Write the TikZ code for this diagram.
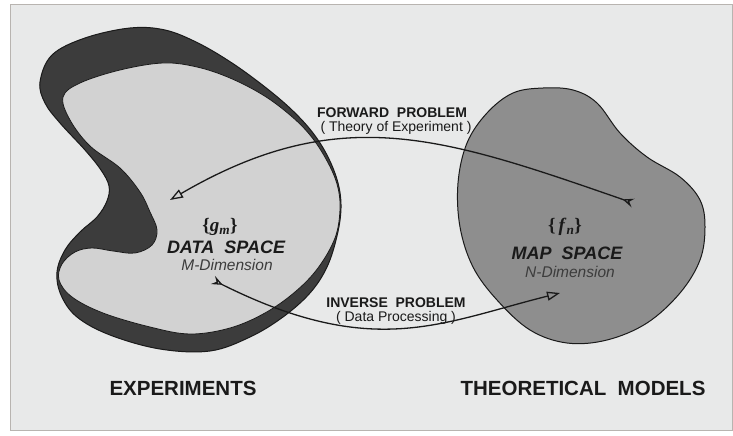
\documentclass[tikz,border=0pt]{standalone}
\usepackage{fontspec}
\setmainfont{Liberation Sans}
\newfontfamily\setserif{Liberation Serif}
\usepackage{tikz}
\usetikzlibrary{arrows.meta}
\definecolor{bg}{HTML}{E8E9E9}
\definecolor{frm}{HTML}{B8B4B0}
\definecolor{face}{HTML}{D2D2D2}
\definecolor{side}{HTML}{3C3C3C}
\definecolor{mapf}{HTML}{8E8E8E}
\definecolor{ink}{HTML}{1A1A1A}

\begin{document}
\begin{tikzpicture}[x=1pt,y=-1pt,
  bigname/.style={font=\fontsize{20.5}{22}\selectfont\bfseries,text=ink},
  problbl/.style={font=\fontsize{14}{15}\selectfont\bfseries,text=ink},
  notelbl/.style={font=\fontsize{14}{15}\selectfont,text=ink},
  spacelbl/.style={font=\fontsize{18}{19}\selectfont\bfseries\itshape,text=ink},
  dimlbl/.style={font=\fontsize{15.5}{16}\selectfont\itshape,text=ink!85},
  setlbl/.style={font=\fontsize{19}{20}\selectfont\setserif\bfseries,text=ink},
  flowarr/.style={ink,line width=1.3pt,
    {Stealth[open,reversed,length=11pt,width=9pt,inset=4pt]}-{Triangle[open,length=13pt,width=9pt]}}]
  \useasboundingbox (0,0) rectangle (733,436);
  % frame
  \draw[frm,fill=bg,line width=1pt] (10,5) rectangle (732,430);
  % data space: dark side first, light face on top
  \draw[ink,fill=side,line width=1pt] plot[smooth cycle,tension=0.6] coordinates {
    (40,82) (52,55) (85,38) (130,28) (165,30) (198,43) (232,63) (265,87)
    (292,110) (313,133) (328,157) (338,183) (341,208) (337,236) (327,267)
    (310,293) (283,317) (250,337) (210,351) (160,349) (110,335) (77,317)
    (61,295) (57,272) (65,250) (80,232) (97,217) (107,201) (109,186)
    (101,170) (85,150) (60,123) (45,103)};
  \draw[ink,fill=face,line width=0.8pt] plot[smooth cycle,tension=0.6] coordinates {
    (63,97) (80,83) (120,70) (163,63) (197,67) (230,78) (263,95) (290,115)
    (310,135) (326,159) (337,184) (340,209) (335,238) (318,268) (295,292)
    (265,313) (230,328) (190,334) (150,327) (103,313) (72,297) (59,280)
    (62,264) (75,252) (92,248) (113,251) (135,253) (152,245) (157,230)
    (150,212) (140,192) (120,168) (90,146) (70,120)};
  % map space
  \draw[ink,fill=mapf,line width=1pt] plot[smooth cycle,tension=0.6] coordinates {
    (543,88) (513,93) (487,113) (467,143) (458,183) (460,227) (473,267)
    (497,300) (530,330) (567,343) (607,340) (647,323) (680,293) (700,260)
    (705,227) (700,200) (680,177) (647,157) (620,133) (597,103) (573,90)};
  % arrow ends
  \coordinate (fwdS) at (633,203);
  \coordinate (fwdE) at (170,200);
  \coordinate (invS) at (213,280);
  \coordinate (invE) at (560,293);
  \draw[flowarr] (fwdS) .. controls (443,137) and (340,101) .. (fwdE);
  \draw[flowarr] (invS) .. controls (373,360) and (440,323) .. (invE);
  % labels
  \node[problbl] (fwdlbl) at (392,113) {FORWARD~~PROBLEM};
  \node[notelbl] (fwdsub) at (396,128) {( Theory of Experiment )};
  \node[problbl] (invlbl) at (396,303) {INVERSE~~PROBLEM};
  \node[notelbl] (invsub) at (396,318) {( Data Processing )};
  \node[setlbl] (gm) at (220,227) {\{\textit{g}\textsubscript{\textit{m}}\}};
  \node[spacelbl] (dataname) at (226,247) {DATA~~SPACE};
  \node[dimlbl] (datadim) at (227,265) {M-Dimension};
  \node[setlbl] (fn) at (565,227) {\{\,\textit{f}\textsubscript{\textit{n}}\}};
  \node[spacelbl] (mapname) at (567,253) {MAP~~SPACE};
  \node[dimlbl] (mapdim) at (570,272) {N-Dimension};
  \node[bigname] (exptitle) at (183,388) {EXPERIMENTS};
  \node[bigname] (theotitle) at (583,388) {THEORETICAL~~MODELS};
\end{tikzpicture}
\end{document}
